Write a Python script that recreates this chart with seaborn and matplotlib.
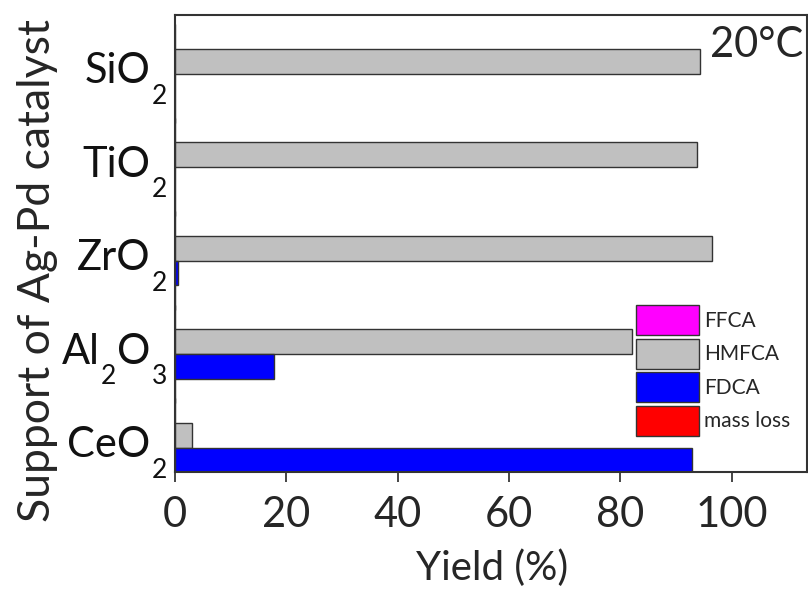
import matplotlib
matplotlib.use("Agg")
import matplotlib.pyplot as plt
import seaborn as sns
import pandas as pd
from matplotlib.patches import Patch
from matplotlib.transforms import offset_copy

categories = ["SiO2", "TiO2", "ZrO2", "Al2O3", "CeO2"]
label_parts = [
    [("SiO", False), ("2", True)],
    [("TiO", False), ("2", True)],
    [("ZrO", False), ("2", True)],
    [("Al", False), ("2", True), ("O", False), ("3", True)],
    [("CeO", False), ("2", True)],
]
series = ["FFCA", "HMFCA", "FDCA", "mass loss"]
ffca = [0.0, 0.0, 0.0, 0.0, 0.0]
hmfca = [94.3, 93.8, 96.5, 82.0, 3.0]
fdca = [0.0, 0.0, 0.5, 17.8, 92.8]
mass_loss = [0.0, 0.0, 0.0, 0.0, 0.0]
colors = ["#FF00FF", "#C0C0C0", "#0000FF", "#FF0000"]
xticks = [0, 20, 40, 60, 80, 100]

rows = []
for name, vals in zip(series, [ffca, hmfca, fdca, mass_loss]):
    for c, v in zip(categories, vals):
        rows.append({"cat": c, "series": name, "yield": v})
df = pd.DataFrame(rows)

sns.set_style("ticks")
plt.rcParams["font.family"] = ["Lato", "DejaVu Sans"]

fig = plt.figure(figsize=(8.08, 5.92), dpi=100)
ax = fig.add_axes([175/808, 1-472/592, (807-175)/808, (472-15)/592])

sns.barplot(data=df, x="yield", y="cat", hue="series", order=categories,
            hue_order=series, palette=colors, orient="h", width=1.05,
            edgecolor="#333333", linewidth=1.0, saturation=1, ax=ax, legend=False)

ax.set_xlim(0, 113.5)
ax.set_ylim(4.262, -0.626)
ax.set_xticks(xticks)
ax.set_xticklabels([str(t) for t in xticks], fontsize=30)
ax.set_yticks(range(len(categories)))
ax.set_yticklabels([])
ax.tick_params(axis="y", length=0)
ax.tick_params(axis="x", length=7, width=1.2, pad=10)
ax.set_xlabel("Yield (%)", fontsize=29, va="center")
ax.xaxis.set_label_coords(0.502, -0.21)
ax.set_ylabel("Support of Ag-Pd catalyst", fontsize=32, va="center")
ax.yaxis.set_label_coords(-0.218, 0.442)
for s in ax.spines.values():
    s.set_linewidth(1.5)
    s.set_color("#333333")

# chemical-formula tick labels with low subscripts
renderer = fig.canvas.get_renderer()
base = ax.get_yaxis_transform()
for i, parts in enumerate(label_parts):
    cursor = -8.0
    for s, sub in reversed(parts):
        dy = -30.0 if sub else -9.5
        fs = 19 if sub else 30
        t = ax.text(0, i, s, fontsize=fs, ha="right", va="baseline", color="#111111",
                    transform=offset_copy(base, fig, x=cursor, y=dy, units="dots"))
        w = t.get_window_extent(renderer).width
        cursor -= w + 1.0

ax.text(0.995, 0.975, "20°C", transform=ax.transAxes, ha="right", va="top", fontsize=30)

handles = [Patch(facecolor=c, edgecolor="#333333", linewidth=1.0) for c in colors]
leg = ax.legend(handles, series, loc="upper left", bbox_to_anchor=(636/808, 1-305/592),
                bbox_transform=fig.transFigure, frameon=False, fontsize=15,
                handlelength=3.03, handleheight=1.84, labelspacing=0.17,
                handletextpad=0.24, borderpad=0, borderaxespad=0)

fig.savefig("out.png", dpi=100)
